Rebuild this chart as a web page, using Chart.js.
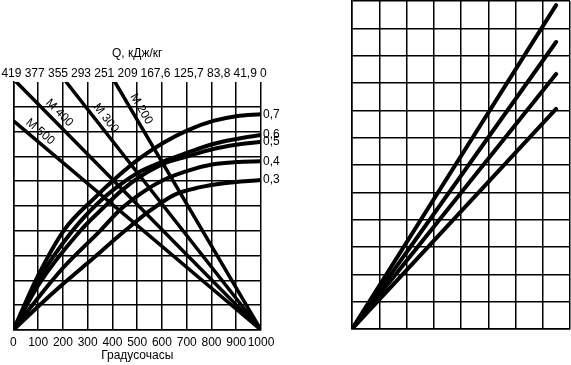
<!DOCTYPE html>
<html>
<head>
<meta charset="utf-8">
<script src="https://cdn.jsdelivr.net/npm/chart.js@4.4.0/dist/chart.umd.min.js"></script>
<style>
  html, body { margin: 0; padding: 0; background: #fff; }
  #wrap { position: relative; width: 571px; height: 365px; overflow: hidden; }
  #left { position: absolute; left: 0; top: 0; }
  #right { position: absolute; left: 340px; top: 0; }
</style>
</head>
<body>
<div id="wrap">
  <canvas id="left" width="300" height="365"></canvas>
  <canvas id="right" width="231" height="365"></canvas>
</div>
<script>
  // top scale: Q, kJ/kg, and where each label sits on the degree-hour axis
  const qLabels = ['419', '377', '355', '293', '251', '209', '167,6', '125,7', '83,8', '41,9', '0'];
  const qTickAt = [-8, 86, 180, 273, 367, 461, 574, 708, 829, 936, 1009];

  // strength curves (degree-hours, grid units)
  const curve07 = [[0,0],[100,2.2],[205,4.03],[325,5.3],[422,6.2],[514,6.95],[606,7.55],[703,8.05],[807,8.43],[900,8.62],[1000,8.7]];
  const curve06 = [[0,0],[100,2.0],[241,4.03],[340,5.1],[430,5.85],[514,6.4],[606,6.8],[703,7.15],[807,7.5],[900,7.7],[1000,7.86]];
  const curve05 = [[0,0],[100,1.8],[273,4.03],[360,4.9],[440,5.65],[514,6.2],[606,6.7],[703,7.0],[807,7.3],[900,7.47],[1000,7.59]];
  const curve04 = [[0,0],[100,1.3],[200,2.5],[353,4.03],[430,4.84],[514,5.5],[606,6.05],[703,6.42],[807,6.68],[900,6.77],[1000,6.8]];
  const curve03 = [[0,0],[100,0.95],[200,1.85],[300,2.7],[454,4.03],[550,4.8],[650,5.45],[750,5.75],[850,5.92],[1000,6.05]];
  const curveLabels = ['0,7', '0,6', '0,5', '0,4', '0,3'];

  // concrete grade lines
  const m500 = [[4,8.4],[1000,0]];
  const m400 = [[12,10],[1000,0]];
  const m300 = [[213,10],[1000,0]];
  const m200 = [[410,10],[1000,0]];
  const mLabels = ['М 500', 'М 400', 'М 300', 'М 200'];
  const mLabelAt = [85, 160, 345, 485];

  // right panel rays
  const ray1 = [[0,0],[7.49,11.85]];
  const ray2 = [[0,0],[7.49,10.5]];
  const ray3 = [[0,0],[7.49,9.33]];
  const ray4 = [[0,0],[7.49,8.05]];

  const FONT = '"Liberation Sans", Arial, sans-serif';
  const curves = [curve07, curve06, curve05, curve04, curve03];
  const mLines = [m500, m400, m300, m200];

  const toXY = pts => pts.map(([x, y]) => ({ x, y }));

  function lineSet(pts, width, smooth) {
    return {
      data: toXY(pts),
      borderColor: '#000',
      borderWidth: width,
      pointRadius: 0,
      fill: false,
      borderCapStyle: 'round',
      cubicInterpolationMode: smooth ? 'monotone' : 'default',
      tension: 0
    };
  }

  const labelPlugin = {
    id: 'lineLabels',
    afterDatasetsDraw(chart) {
      const { ctx, scales: { x, y } } = chart;
      ctx.save();
      ctx.fillStyle = '#000';
      ctx.font = '12px ' + FONT;
      ctx.textAlign = 'left';
      ctx.textBaseline = 'middle';
      curves.forEach((c, i) => {
        const last = c[c.length - 1];
        ctx.fillText(curveLabels[i], x.getPixelForValue(last[0]) + 2, y.getPixelForValue(last[1]));
      });
      mLines.forEach((m, i) => {
        const ax = x.getPixelForValue(m[0][0]), ay = y.getPixelForValue(m[0][1]);
        const bx = x.getPixelForValue(m[1][0]), by = y.getPixelForValue(m[1][1]);
        const t = (mLabelAt[i] - m[0][0]) / (m[1][0] - m[0][0]);
        ctx.save();
        ctx.translate(ax + t * (bx - ax), ay + t * (by - ay));
        ctx.rotate(Math.atan2(by - ay, bx - ax));
        ctx.textAlign = 'center';
        ctx.textBaseline = 'bottom';
        ctx.fillText(mLabels[i], 0, -3);
        ctx.restore();
      });
      ctx.restore();
    }
  };

  const gridBlack = { color: '#000', lineWidth: 1.5, drawTicks: false };

  new Chart(document.getElementById('left'), {
    type: 'line',
    data: {
      datasets: [
        ...curves.map(c => lineSet(c, 4, true)),
        ...mLines.map(m => lineSet(m, 3.5, false))
      ]
    },
    options: {
      responsive: false,
      animation: false,
      layout: { padding: { left: 12, right: 39, top: 0, bottom: 0 } },
      plugins: { legend: { display: false }, tooltip: { enabled: false } },
      scales: {
        x: {
          type: 'linear', position: 'bottom', min: 0, max: 1000,
          ticks: { stepSize: 100, color: '#000', font: { size: 12, family: FONT }, padding: 5, maxRotation: 0, autoSkip: false,
                   callback: v => String(v) },
          grid: gridBlack,
          border: { color: '#000', width: 1.5 },
          title: { display: true, text: 'Градусочасы', color: '#000', font: { size: 12, family: FONT }, padding: { top: 0, bottom: 2 } },
          afterFit: s => { s.height = 35; }
        },
        x2: {
          type: 'linear', position: 'top', min: 0, max: 1000,
          afterBuildTicks: s => { s.ticks = qTickAt.map(v => ({ value: v })); },
          ticks: { color: '#000', font: { size: 12, family: FONT }, padding: 1.5, maxRotation: 0, autoSkip: false,
                   callback: (v, i) => qLabels[i] },
          grid: { display: false, drawTicks: false },
          border: { display: false },
          title: { display: true, text: 'Q, кДж/кг', color: '#000', font: { size: 12, family: FONT }, padding: { top: 46, bottom: 0 } },
          afterFit: s => { s.height = 82; }
        },
        y: {
          type: 'linear', min: 0, max: 10,
          ticks: { display: false, stepSize: 1 },
          grid: { ...gridBlack, color: c => (c.tick && c.tick.value === 10 ? 'rgba(0,0,0,0)' : '#000') },
          border: { color: '#000', width: 1.5 },
          afterFit: s => { s.width = 0; }
        }
      }
    },
    plugins: [labelPlugin]
  });

  new Chart(document.getElementById('right'), {
    type: 'line',
    data: { datasets: [ray1, ray2, ray3, ray4].map(r => lineSet(r, 4, false)) },
    options: {
      responsive: false,
      animation: false,
      layout: { padding: { left: 12, right: 1, top: 1, bottom: 36 } },
      plugins: { legend: { display: false }, tooltip: { enabled: false } },
      scales: {
        x: {
          type: 'linear', min: 0, max: 8,
          ticks: { display: false, stepSize: 1 },
          grid: gridBlack,
          border: { color: '#000', width: 1.5 },
          afterFit: s => { s.height = 0; }
        },
        y: {
          type: 'linear', min: 0, max: 12,
          ticks: { display: false, stepSize: 1 },
          grid: gridBlack,
          border: { color: '#000', width: 1.5 },
          afterFit: s => { s.width = 0; }
        }
      }
    }
  });
</script>
</body>
</html>
